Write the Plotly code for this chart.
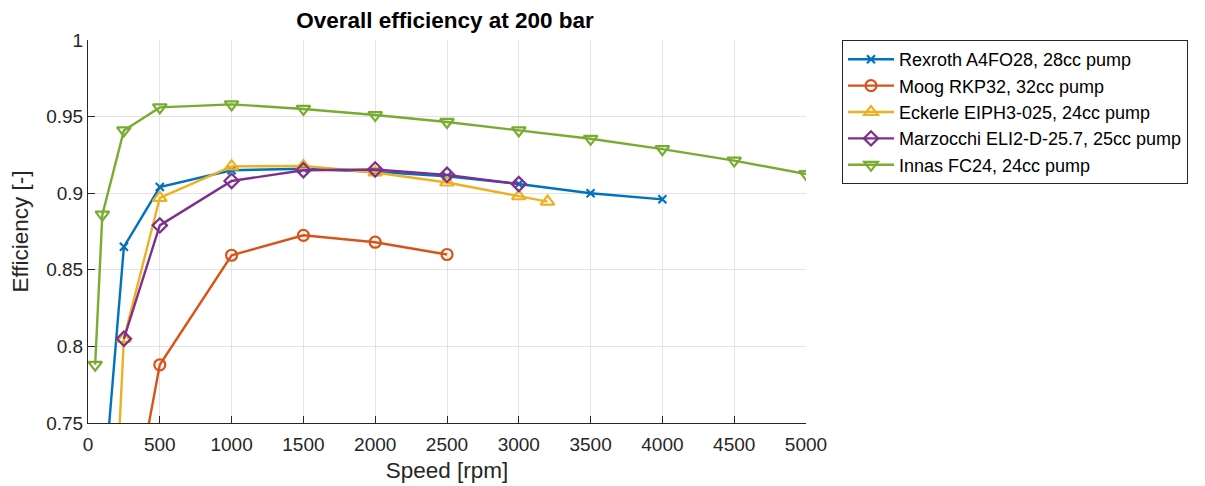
import plotly.graph_objects as go

# ---- data ----
rexroth_speed = [100, 250, 500, 1000, 1500, 2000, 2500, 3000, 3500, 4000]
rexroth_eff = [0.696, 0.865, 0.904, 0.915, 0.916, 0.914, 0.911, 0.906, 0.900, 0.896]

moog_speed = [250, 500, 1000, 1500, 2000, 2500]
moog_eff = [0.662, 0.788, 0.8595, 0.8725, 0.868, 0.860]

eckerle_speed = [200, 250, 500, 1000, 1500, 2000, 2500, 3000, 3200]
eckerle_eff = [0.711, 0.805, 0.897, 0.9175, 0.9178, 0.9135, 0.907, 0.898, 0.8945]

marz_speed = [250, 500, 1000, 1500, 2000, 2500, 3000]
marz_eff = [0.805, 0.879, 0.908, 0.915, 0.9155, 0.912, 0.906]

innas_speed = [50, 100, 250, 500, 1000, 1500, 2000, 2500, 3000, 3500, 4000, 4500, 5000]
innas_eff = [0.788, 0.886, 0.941, 0.956, 0.958, 0.955, 0.951, 0.9465, 0.941, 0.9355, 0.9288, 0.9213, 0.9125]

series_names = [
    "Rexroth A4FO28, 28cc pump",
    "Moog RKP32, 32cc pump",
    "Eckerle EIPH3-025, 24cc pump",
    "Marzocchi ELI2-D-25.7, 25cc pump",
    "Innas FC24, 24cc pump",
]
colors = ["#0072BD", "#D95319", "#EDB120", "#7E2F8E", "#77AC30"]
symbols = ["x-thin", "circle-open", "triangle-up-open", "diamond-open", "triangle-down-open"]
sizes = [8, 11, 12, 11, 12]

x_ticks = list(range(0, 5001, 500))
y_ticks = [0.75, 0.8, 0.85, 0.9, 0.95, 1.0]
y_ticklabels = ["0.75", "0.8", "0.85", "0.9", "0.95", "1"]

xs = [rexroth_speed, moog_speed, eckerle_speed, marz_speed, innas_speed]
ys = [rexroth_eff, moog_eff, eckerle_eff, marz_eff, innas_eff]

fig = go.Figure()
for x, y, name, c, s, sz in zip(xs, ys, series_names, colors, symbols, sizes):
    fig.add_trace(go.Scatter(
        x=x, y=y, name=name, mode="lines+markers",
        line=dict(color=c, width=2.4),
        marker=dict(symbol=s, size=sz, color=c, line=dict(color=c, width=2.2)),
    ))

# page body has an 8px margin, so offsets compensate for it
W, H = 1205, 486
font = "Liberation Sans, Arial, Helvetica, sans-serif"
fig.update_layout(
    width=W, height=H,
    margin=dict(l=80, r=407, t=32, b=71, autoexpand=False),
    paper_bgcolor="white", plot_bgcolor="white",
    font=dict(family=font, size=19, color="#262626"),
    title=dict(text="<b>Overall efficiency at 200 bar</b>", x=437 / W, xanchor="center",
               y=1 - 12 / H, yanchor="middle", font=dict(size=22.5, color="black")),
    showlegend=True,
    legend=dict(x=(842 - 88) / 718, xanchor="left", y=1.0, yanchor="top",
                bordercolor="#262626", borderwidth=1, bgcolor="white",
                font=dict(size=18, color="black"), tracegroupgap=0, itemwidth=46),
)
fig.update_xaxes(
    range=[0, 5000], tickvals=x_ticks, ticks="inside", ticklen=7, tickcolor="#262626",
    showline=True, linecolor="#262626", linewidth=1, mirror=False, automargin=False,
    showgrid=True, gridcolor="#e3e3e3", gridwidth=1, zeroline=False, ticklabelstandoff=4,
    title=dict(text="Speed [rpm]", font=dict(size=22.5), standoff=8),
    tickfont=dict(size=19, color="#262626"),
)
fig.update_yaxes(
    range=[0.75, 1.0], tickvals=y_ticks, ticktext=y_ticklabels, ticks="inside", ticklen=7,
    tickcolor="#262626", showline=True, linecolor="#262626", linewidth=1, mirror=False,
    automargin=False,
    showgrid=True, gridcolor="#e3e3e3", gridwidth=1, zeroline=False,
    title=dict(text="Efficiency [-]", font=dict(size=22.5), standoff=14),
    tickfont=dict(size=19, color="#262626"),
)

fig.write_html("out.html")
